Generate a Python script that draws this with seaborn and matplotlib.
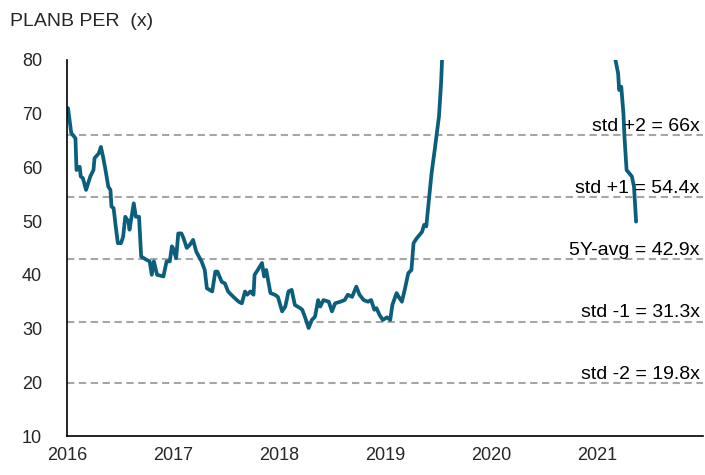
import numpy as np
import pandas as pd
import matplotlib
matplotlib.use('Agg')
import matplotlib.pyplot as plt
import seaborn as sns

# decimal-year time axis and PER values
years = [2016.01, 2016.04, 2016.08, 2016.09, 2016.12, 2016.13, 2016.15, 2016.18, 2016.22, 2016.25,
         2016.26, 2016.30, 2016.32, 2016.34, 2016.36, 2016.39, 2016.41, 2016.42, 2016.44, 2016.46,
         2016.48, 2016.51, 2016.53, 2016.55, 2016.58, 2016.59, 2016.63, 2016.65, 2016.68, 2016.70,
         2016.75, 2016.78, 2016.80, 2016.82, 2016.85, 2016.91, 2016.94, 2016.97, 2016.99, 2017.00,
         2017.03, 2017.05, 2017.08, 2017.10, 2017.13, 2017.16, 2017.19, 2017.22, 2017.27, 2017.30,
         2017.32, 2017.37, 2017.40, 2017.42, 2017.46, 2017.49, 2017.52, 2017.57, 2017.62, 2017.65,
         2017.68, 2017.70, 2017.73, 2017.76, 2017.77, 2017.80, 2017.84, 2017.86, 2017.88, 2017.92,
         2017.96, 2017.99, 2018.03, 2018.06, 2018.09, 2018.12, 2018.15, 2018.20, 2018.22, 2018.25,
         2018.28, 2018.31, 2018.34, 2018.37, 2018.39, 2018.42, 2018.47, 2018.50, 2018.53, 2018.58,
         2018.62, 2018.65, 2018.69, 2018.73, 2018.76, 2018.80, 2018.84, 2018.87, 2018.90, 2018.92,
         2018.95, 2018.98, 2019.02, 2019.05, 2019.07, 2019.11, 2019.13, 2019.16, 2019.19, 2019.22,
         2019.25, 2019.27, 2019.30, 2019.35, 2019.37, 2019.39, 2019.42, 2019.44, 2019.47, 2019.49,
         2019.51, 2019.53, 2019.54, 2019.60, 2019.70, 2019.90, 2020.20, 2020.50, 2020.80, 2021.00,
         2021.10, 2021.17, 2021.20, 2021.21, 2021.23, 2021.25, 2021.26, 2021.28, 2021.33, 2021.35,
         2021.37]
per = [71.0, 66.4, 65.4, 59.5, 60.1, 58.3, 58.0, 55.8, 58.3, 59.5,
       61.7, 62.6, 63.8, 62.0, 59.9, 56.4, 55.8, 52.7, 52.4, 49.0,
       45.9, 45.9, 47.1, 50.8, 49.9, 48.4, 53.3, 50.8, 50.8, 43.4,
       42.8, 42.5, 40.0, 42.5, 40.0, 39.7, 42.5, 42.5, 45.3, 45.0,
       43.1, 47.7, 47.7, 46.8, 45.0, 45.6, 46.5, 44.3, 42.5, 40.9,
       37.5, 36.9, 40.6, 40.6, 38.7, 38.4, 36.9, 35.9, 35.0, 34.7,
       36.9, 36.3, 36.9, 36.3, 40.0, 40.9, 42.2, 39.7, 40.9, 36.6,
       36.3, 35.9, 33.2, 34.1, 36.9, 37.2, 34.4, 33.8, 33.5, 31.9,
       30.1, 31.6, 32.2, 35.3, 34.1, 35.3, 35.0, 33.2, 34.7, 35.0,
       35.3, 36.3, 35.9, 37.8, 36.3, 35.3, 35.0, 35.3, 33.5, 33.8,
       32.5, 31.6, 32.1, 31.6, 34.4, 36.6, 35.9, 35.0, 37.5, 40.3,
       40.9, 45.9, 46.8, 48.0, 49.3, 49.0, 54.9, 58.9, 63.3, 66.4,
       69.5, 75.7, 80.5, 92.0, 110.0, 130.0, 150.0, 140.0, 120.0, 100.0,
       90.0, 80.5, 77.5, 74.4, 75.0, 70.1, 65.7, 59.5, 58.3, 56.4,
       49.9]

band_values = [66.0, 54.4, 42.9, 31.3, 19.8]
band_labels = ['std +2 = 66x', 'std +1 = 54.4x', '5Y-avg = 42.9x', 'std -1 = 31.3x', 'std -2 = 19.8x']

df = pd.DataFrame({'year': years, 'per': per})

sns.set_style('white')
plt.rcParams['font.family'] = ['Liberation Sans', 'DejaVu Sans']

fig = plt.figure(figsize=(7.05, 4.75), dpi=100)
ax = fig.add_axes([0.095, 0.082, 0.902, 0.792])

for v, lab in zip(band_values, band_labels):
    ax.axhline(v, color='#a6a6a6', lw=1.5, linestyle=(0, (3.5, 2.2)), zorder=1)
    ax.text(2021.97, v + 0.8, lab, ha='right', va='baseline', fontsize=14, color='black', zorder=3)

sns.lineplot(data=df, x='year', y='per', ax=ax, color='#0b5f7c', linewidth=2.7, zorder=2)

ax.set_xlim(2016, 2022)
ax.set_ylim(10, 80)
ax.set_yticks(range(10, 81, 10))
ax.set_xticks(range(2016, 2023))
ax.set_xticklabels([str(y) for y in range(2016, 2022)] + [''])
ax.set_xlabel('')
ax.set_ylabel('')

for side in ['top', 'right']:
    ax.spines[side].set_visible(False)
for side in ['left', 'bottom']:
    ax.spines[side].set_color('black')
    ax.spines[side].set_linewidth(1.2)

ax.tick_params(axis='y', direction='out', length=5, width=1, color='black', labelsize=13, pad=13)
ax.tick_params(axis='x', direction='out', length=5, width=1, color='black', labelsize=13, pad=3)

fig.text(0.014, 0.955, 'PLANB PER  (x)', fontsize=14, ha='left', va='center')

fig.savefig('out.png', dpi=100)
